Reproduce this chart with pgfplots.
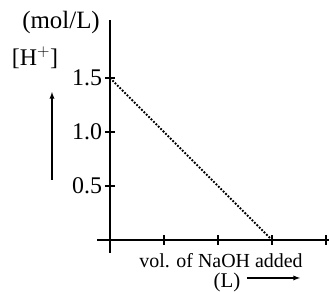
\documentclass[border=0pt]{standalone}
\usepackage{pgfplots}
\pgfplotsset{compat=1.18}
\usepackage{fontspec}
\setmainfont{Liberation Serif}
\begin{document}
\begin{tikzpicture}
\begin{axis}[
  x=54bp, y=108bp,
  axis lines=middle,
  axis line style={line width=1.3bp, -},
  xmin=-0.24, xmax=4.06, ymin=-0.12, ymax=2.04,
  xtick={1,2,3,4}, xticklabels={},
  ytick={0.5,1,1.5}, yticklabels={0.5,1.0,1.5},
  tick align=center, major tick length=10bp,
  tick style={line width=1.3bp, black},
  /pgf/number format/assume math mode=true,
  tick label style={font=\fontsize{24}{24}\selectfont},
  yticklabel style={xshift=0.5bp},
  clip=false,
]
\addplot[dash pattern=on 1.8bp off 1.6bp, line width=1.8bp, black] coordinates {(0,1.5) (3,0)};
\node[font=\fontsize{25}{25}\selectfont] at (axis cs:-0.907,2.009) {(mol/L)};
\node[font=\fontsize{24}{24}\selectfont] at (axis cs:-1.389,1.685) {[H$^{+}$]};
\draw[line width=1.3bp, -latex] (axis cs:-1.074,0.556) -- (axis cs:-1.074,1.37);
\node[font=\fontsize{20}{20}\selectfont, inner sep=0pt] at (axis cs:2.056,-0.195) {vol. of NaOH added};
\node[font=\fontsize{21}{21}\selectfont, inner sep=0pt] at (axis cs:2.167,-0.395) {(L)};
\draw[line width=1.3bp, -latex] (axis cs:2.537,-0.352) -- (axis cs:3.519,-0.352);
\coordinate (bl) at (axis cs:-2.037,-0.481);
\coordinate (tr) at (axis cs:4.056,2.222);
\end{axis}
\pgfresetboundingbox
\useasboundingbox (bl) rectangle (tr);
\end{tikzpicture}
\end{document}
